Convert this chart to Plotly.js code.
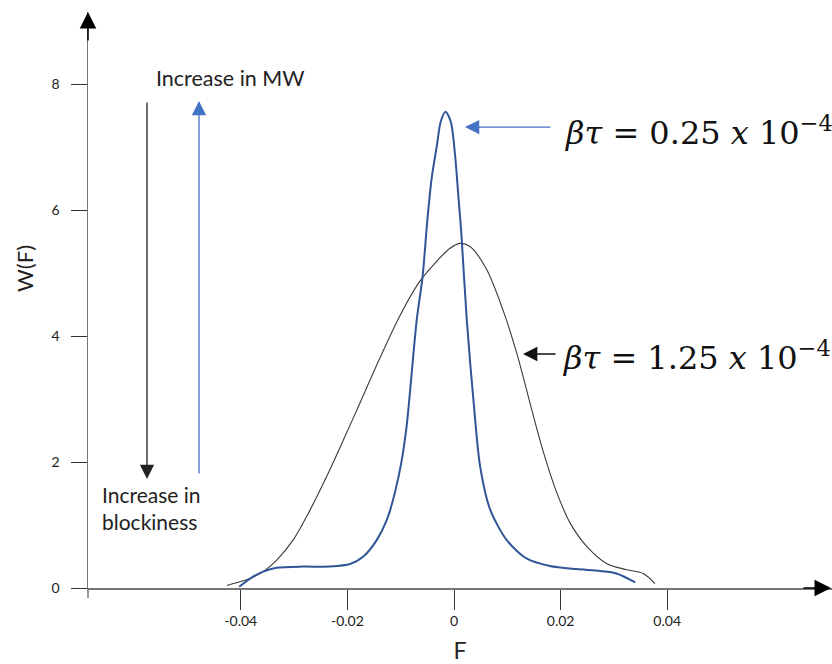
<!DOCTYPE html>
<html>
<head>
<meta charset="utf-8">
<script src="https://cdn.plot.ly/plotly-3.0.1.min.js"></script>
<style>html,body{margin:0;padding:0;background:#fff;}#chart{width:832px;height:664px;}</style>
</head>
<body>
<div id="chart"></div>
<script>
// Narrow distribution (βτ = 0.25 x 10^-4)
const blueX = [-0.0403,-0.0377,-0.0358,-0.0333,-0.0283,-0.0233,-0.0195,-0.0170,-0.0145,-0.0126,-0.0111,-0.0098,-0.0089,-0.0084,-0.0070,-0.0059,-0.0050,-0.0042,-0.0032,-0.0025,-0.0016,-0.0006,0.0002,0.0008,0.0014,0.0024,0.0038,0.0049,0.0068,0.0099,0.0136,0.0180,0.0230,0.0274,0.0305,0.0340];
const blueY = [0.02,0.18,0.26,0.32,0.34,0.34,0.38,0.50,0.76,1.08,1.51,2.03,2.56,2.98,4.25,4.94,5.84,6.50,7.03,7.40,7.56,7.40,6.87,6.24,5.60,4.25,2.83,1.93,1.24,0.76,0.47,0.35,0.30,0.27,0.23,0.09];
// Broad distribution (βτ = 1.25 x 10^-4)
const blackX = [-0.0426,-0.0414,-0.0383,-0.0358,-0.0333,-0.0302,-0.0270,-0.0239,-0.0208,-0.0180,-0.0139,-0.0101,-0.0064,-0.0032,-0.0008,0.0011,0.0030,0.0061,0.0092,0.0118,0.0144,0.0168,0.0193,0.0218,0.0249,0.0286,0.0324,0.0355,0.0377];
const blackY = [0.04,0.07,0.15,0.26,0.44,0.76,1.24,1.77,2.34,2.87,3.65,4.33,4.87,5.19,5.39,5.47,5.42,5.06,4.41,3.72,2.89,2.15,1.51,1.03,0.66,0.39,0.29,0.23,0.07];

const xTickVals = [-0.04,-0.02,0,0.02,0.04];
const xTickText = ['-0.04','-0.02','0','0.02','0.04'];
const yTickVals = [0,2,4,6,8];
const yTickText = ['0','2','4','6','8'];

const labelNarrow = '<i>βτ</i> = 0.25 <i>x</i> 10<sup>−4</sup>';
const labelBroad = '<i>βτ</i> = 1.25 <i>x</i> 10<sup>−4</sup>';
const labelMW = 'Increase in MW';
const labelBlock = 'Increase in<br>blockiness';
const xTitle = 'F';
const yTitle = 'W(F)';

const traces = [
  {x: blackX, y: blackY, mode: 'lines', line: {color: '#3a3a3a', width: 1.1, shape: 'spline', smoothing: 0.9}, hoverinfo: 'skip'},
  {x: blueX, y: blueY, mode: 'lines', line: {color: '#2F5597', width: 2, shape: 'spline', smoothing: 0.8}, hoverinfo: 'skip'}
];

const gray = '#767676';
const layout = {
  width: 832, height: 664,
  margin: {l: 88, r: 0, t: 12, b: 76},
  paper_bgcolor: '#fff', plot_bgcolor: '#fff',
  showlegend: false,
  font: {family: 'Lato, sans-serif', color: '#222'},
  xaxis: {
    range: [-0.06867, 0.07092],
    tickvals: xTickVals, ticktext: xTickText,
    ticks: 'outside', ticklen: 20, tickcolor: '#333', tickwidth: 1,
    showline: true, linecolor: gray, linewidth: 1.5,
    showgrid: false, zeroline: false,
    tickfont: {size: 14, color: '#222'},
    title: {text: xTitle, font: {size: 23, color: '#222'}, standoff: 14}
  },
  yaxis: {
    range: [0, 9.143],
    tickvals: yTickVals, ticktext: yTickText,
    ticks: 'outside', ticklen: 16, tickcolor: '#333', tickwidth: 1,
    ticklabelstandoff: 8,
    showline: true, linecolor: gray, linewidth: 1.5,
    showgrid: false, zeroline: false,
    tickfont: {size: 14, color: '#222'}
  },
  shapes: [
    {type: 'line', xref: 'paper', yref: 'paper', x0: 0, x1: 0, y0: 0, y1: -0.0174, line: {color: gray, width: 1.5}}
  ],
  annotations: [
    // y axis title (placed as in the reference, above the plot centre)
    {xref: 'paper', yref: 'paper', x: -0.0847, y: 0.5556, xanchor: 'center', yanchor: 'middle', textangle: -90, text: yTitle, showarrow: false, font: {size: 22, color: '#222'}},
    // axis arrowheads
    {xref: 'paper', yref: 'paper', x: 0, y: 1, ax: 0, ay: 30, text: '', showarrow: true, arrowhead: 2, arrowsize: 2.2, arrowwidth: 1.5, arrowcolor: '#000'},
    {xref: 'paper', yref: 'paper', x: 1, y: 0, ax: -30, ay: 0, text: '', showarrow: true, arrowhead: 2, arrowsize: 2.2, arrowwidth: 1.5, arrowcolor: '#000'},
    // vertical arrows
    {xref: 'x', yref: 'y', x: -0.0576, y: 1.73, ax: 0, ay: -378, text: '', showarrow: true, arrowhead: 2, arrowsize: 2.2, arrowwidth: 1.3, arrowcolor: '#222'},
    {xref: 'x', yref: 'y', x: -0.04784, y: 7.73, ax: 0, ay: 374, text: '', showarrow: true, arrowhead: 2, arrowsize: 2.2, arrowwidth: 1.3, arrowcolor: '#4472C4'},
    // horizontal arrows to curves
    {xref: 'x', yref: 'y', x: 0.00206, y: 7.317, ax: 87, ay: 0, text: '', showarrow: true, arrowhead: 2, arrowsize: 2.2, arrowwidth: 1.3, arrowcolor: '#4472C4'},
    {xref: 'x', yref: 'y', x: 0.01295, y: 3.714, ax: 34, ay: 0, text: '', showarrow: true, arrowhead: 2, arrowsize: 2.2, arrowwidth: 1.3, arrowcolor: '#111'},
    // texts
    {xref: 'x', yref: 'y', x: 0.0205, y: 7.25, xanchor: 'left', yanchor: 'middle', text: labelNarrow, showarrow: false, font: {family: 'DejaVu Serif, serif', size: 32, color: '#111'}},
    {xref: 'x', yref: 'y', x: 0.0201, y: 3.68, xanchor: 'left', yanchor: 'middle', text: labelBroad, showarrow: false, font: {family: 'DejaVu Serif, serif', size: 32, color: '#111'}},
    {xref: 'x', yref: 'y', x: -0.0563, y: 8.095, xanchor: 'left', yanchor: 'middle', text: labelMW, showarrow: false, font: {size: 21.5, color: '#222'}},
    {xref: 'x', yref: 'y', x: -0.0664, y: 1.27, xanchor: 'left', yanchor: 'middle', align: 'left', text: labelBlock, showarrow: false, font: {size: 21, color: '#222'}}
  ]
};

Plotly.newPlot('chart', traces, layout, {displayModeBar: false, staticPlot: true});
</script>
</body>
</html>
